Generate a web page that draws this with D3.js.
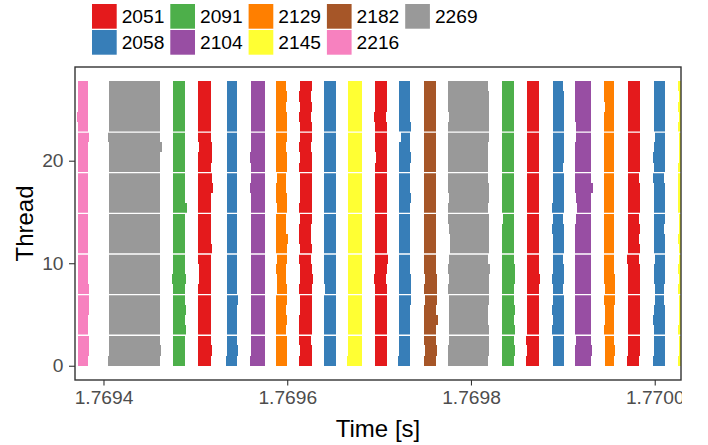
<!DOCTYPE html>
<html>
<head>
<meta charset="utf-8">
<script src="https://cdn.jsdelivr.net/npm/d3@7"></script>
<style>
  body { margin: 0; background: #fff; }
  svg { display: block; font-family: "Liberation Sans", Arial, sans-serif; }
</style>
</head>
<body>
<main></main>
<script>
// Data
const pids = ['2051', '2058', '2091', '2104', '2129', '2145', '2182', '2216', '2269']
const pidColors = ['#E41A1C', '#377EB8', '#4DAF4A', '#984EA3', '#FF7F00', '#FFFF33', '#A65628', '#F781BF', '#999999']

// each run: process id, start time [s], end time [s]
const runPid = ['2216', '2269', '2091', '2051', '2058', '2104', '2129', '2051', '2058', '2145', '2051',
    '2058', '2182', '2269', '2091', '2051', '2058', '2104', '2129', '2051', '2058', '2145']
const runStart = [1.7693722, 1.7694060, 1.7694756, 1.7695029, 1.7695344, 1.7695605, 1.7695878, 1.7696139,
    1.7696400, 1.7696661, 1.7696955, 1.7697216, 1.7697488, 1.7697750, 1.7698337, 1.7698610, 1.7698893,
    1.7699132, 1.7699448, 1.7699709, 1.7699992, 1.7700253]
const runEnd = [1.7693831, 1.7694615, 1.7694887, 1.7695170, 1.7695453, 1.7695758, 1.7695997, 1.7696269,
    1.7696531, 1.7696814, 1.7697086, 1.7697336, 1.7697619, 1.7698182, 1.7698468, 1.7698740, 1.7699012,
    1.7699306, 1.7699556, 1.7699839, 1.7700112, 1.7700400]

// per-thread deviations from a run's start / end: [thread, start shift, end shift] in microseconds
const runShifts = [
    [[24, -1.5, 0], [22, 0, 1.1], [7, 0, 1.1], [6, 0, 1.1], [5, 0, 1.1], [2, 0, 1.1], [1, 0, 1.1]],
    [[22, -1.1, 0], [21, 0, 2.2], [1, 0, 1.1], [0, -1.1, 0]],
    [[15, 0, 2.2], [8, -1.1, 1.1], [5, 0, 1.1], [3, 0, 1.1]],
    [[21, 1.1, 1.1], [20, 0, 1.1], [18, 0, 1.1], [17, 0, 2.2], [11, 0, 1.1], [9, 1.1, 0], [8, 1.1, 0], [1, 0, 1.1]],
    [[6, 0, 1.1], [1, 0, 1.1], [0, -1.1, 0]],
    [[20, -1.1, 0], [17, -1.1, 0], [0, -1.1, 0]],
    [[27, 0, -1.1], [25, 0, -1.1], [21, 0, -1.1], [18, 1.1, -1.1], [17, 0, -1.1], [15, 1.1, 0], [14, 0, -1.1],
        [13, 0, -1.1], [12, 0, 1.1], [10, 1.1, 0], [9, 0, -1.1], [8, 1.1, -1.1], [7, 1.1, 0], [5, 0, -1.1], [3, 0, -1.1]],
    [[26, -1.1, -1.1], [24, -1.1, -1.1], [21, -1.1, -1.1], [19, -1.1, 0], [15, -1.1, 0], [13, -1.1, -1.1],
        [12, -1.1, -1.1], [10, -1.1, -1.1], [8, 0, 1.1], [7, -1.1, 0], [4, -1.1, 0], [3, -1.1, 0], [2, -1.1, -1.1], [0, -1.1, 0]],
    [[7, 1.1, 0]],
    [[0, -1.1, 0]],
    [[24, -1.1, -1.1], [20, 1.1, 0], [10, 0, 1.1], [8, -1.1, -1.1]],
    [[23, 0, 1.1], [22, 2.2, 0], [20, 0, 1.1], [16, 0, 1.1], [8, 0, 1.1], [7, 0, 1.1], [6, 0, 1.1], [0, -1.1, 0]],
    [[8, 1.1, 1.1], [7, 0, 1.1], [6, 1.1, 1.1], [4, 0, 2.2], [1, 1.1, 1.1]],
    [[26, 0, 1.1], [25, 0, 1.1], [24, 1.1, 1.1], [23, 0, 1.1], [22, 0, 1.1], [17, 0, 1.1], [16, 1.1, 1.1],
        [14, 0, 1.1], [13, 1.1, 1.1], [12, 2.2, 1.1], [11, 2.2, 1.1], [10, 1.1, 0], [9, 0, 2.2], [8, 1.1, 1.1],
        [7, 0, 1.1], [6, 1.1, 1.1], [5, 1.1, 0], [4, 1.1, 0], [3, 1.1, 1.1], [2, 1.1, 1.1], [1, 0, 1.1]],
    [[14, 1.1, 0], [9, 0, 1.1], [8, 0, 1.1], [5, 0, 1.1], [3, 0, 1.1], [1, 0, 1.1]],
    [[8, 0, 1.1], [2, -1.1, 0], [0, -1.1, 0]],
    [[27, 0, -1.1], [19, 0, -1.1], [15, -1.1, 0], [14, 0, -1.1], [13, -1.1, 0], [10, 0, -1.1], [8, -1.1, 0],
        [7, 0, -1.1], [5, -1.1, 0], [3, -1.1, 0]],
    [[23, 1.1, 0], [22, 1.1, 0], [17, 0, 2.2], [16, 1.1, 0], [15, 2.2, 0], [14, 1.1, 0], [2, 1.1, 0], [1, 0, 1.1]],
    [[25, 1.1, 0], [8, 0, 1.1], [7, 1.1, 1.1], [6, 0, 1.1], [5, 1.1, 0], [4, 1.1, 0], [2, 1.1, 0], [1, 1.1, 1.1], [0, 1.1, 0]],
    [[18, 0, -1.1], [14, 0, -1.1], [12, 0, -1.1], [10, -1.1, -1.1], [0, -1.1, -1.1]],
    [[22, 1.1, 0], [20, -1.1, 0], [18, -1.1, -1.1], [13, 0, -1.1], [10, 1.1, 0], [7, 1.1, -1.1], [6, 1.1, -1.1],
        [4, -1.1, 0], [0, -1.1, 0]],
    [[26, 1.5, 0], [24, 1.5, 0], [22, 1.5, 0], [21, 1.5, 0], [20, 1.5, 0], [14, 1.5, 0], [13, 1.5, 0],
        [11, 1.5, 0], [10, 1.5, 0], [8, 1.5, 0], [6, 1.5, 0], [5, 1.5, 0], [4, 1.5, 0], [2, 1.5, 0], [1, 1.5, 0]]
]

const threadCount = 28
const groupBreaks = [3, 7, 11, 15, 19, 23]
const xTicks = [1.7694, 1.7696, 1.7698, 1.7700]
const yTicks = [0, 10, 20]

function GeneratePlot() {
    // Configuration
    const width = 708
    const height = 445
    const panel = { left: 75, right: 681, top: 67, bottom: 380 }
    const rowHeight = 0.991

    const x = d3.scaleLinear()
        .domain([1.769369, 1.7700286])
        .range([panel.left, panel.right])
    const y = d3.scaleLinear()
        .domain([-1.39, 29.14])
        .range([panel.bottom, panel.top])
    const color = d3.scaleOrdinal().domain(pids).range(pidColors)

    // one tile per run and thread
    const tiles = []
    runPid.forEach((pid, i) => {
        const shifts = new Map(runShifts[i].map(s => [s[0], s]))
        d3.range(threadCount).forEach(t => {
            const s = shifts.get(t) || [t, 0, 0]
            tiles.push({
                pid: pid,
                thread: t,
                start: runStart[i] + s[1] * 1e-6,
                end: runEnd[i] + s[2] * 1e-6
            })
        })
    })

    const svg = d3.select('main')
        .append('svg')
        .attr('width', width)
        .attr('height', height)

    const defs = svg.append('defs')
    defs.append('clipPath')
        .attr('id', 'panel-clip')
        .append('rect')
        .attr('x', panel.left)
        .attr('y', panel.top)
        .attr('width', panel.right - panel.left)
        .attr('height', panel.bottom - panel.top)
    // the bottom labels are cut at the panel's right edge in the original
    defs.append('clipPath')
        .attr('id', 'xaxis-clip')
        .append('rect')
        .attr('x', 0)
        .attr('y', 0)
        .attr('width', panel.right + 1)
        .attr('height', height)

    const plot = svg.append('g')
        .attr('clip-path', 'url(#panel-clip)')

    plot.selectAll('rect.tile')
        .data(tiles)
        .enter()
        .append('rect')
        .classed('tile', true)
        .attr('x', d => x(d.start))
        .attr('width', d => x(d.end) - x(d.start))
        .attr('y', d => y((d.thread + 1) * rowHeight))
        .attr('height', d => y(d.thread * rowHeight) - y((d.thread + 1) * rowHeight))
        .attr('fill', d => color(d.pid))
        .attr('shape-rendering', 'crispEdges')

    plot.selectAll('line.break')
        .data(groupBreaks)
        .enter()
        .append('line')
        .classed('break', true)
        .attr('x1', panel.left)
        .attr('x2', panel.right)
        .attr('y1', d => y(d * rowHeight))
        .attr('y2', d => y(d * rowHeight))
        .attr('stroke', '#fff')
        .attr('stroke-width', 1.3)

    // Panel border
    svg.append('rect')
        .attr('x', panel.left)
        .attr('y', panel.top)
        .attr('width', panel.right - panel.left)
        .attr('height', panel.bottom - panel.top)
        .attr('fill', 'none')
        .attr('stroke', '#333333')
        .attr('stroke-width', 1.4)

    // Axes
    const xAxis = svg.append('g')
        .attr('clip-path', 'url(#xaxis-clip)')
        .append('g')
        .attr('transform', `translate(0,${panel.bottom})`)
        .call(d3.axisBottom(x).tickValues(xTicks).tickFormat(d3.format('.4f')).tickSize(5.5).tickPadding(5).tickSizeOuter(0))
    const yAxis = svg.append('g')
        .attr('transform', `translate(${panel.left},0)`)
        .call(d3.axisLeft(y).tickValues(yTicks).tickSize(6).tickPadding(5.5).tickSizeOuter(0))

    ;[xAxis, yAxis].forEach(a => {
        a.select('.domain').remove()
        a.selectAll('line').attr('stroke', '#333333').attr('stroke-width', 1.1)
        a.selectAll('text')
            .attr('fill', '#4D4D4D')
            .style('font-size', '19.2px')
            .style('font-family', '"Liberation Sans", Arial, sans-serif')
    })

    svg.append('text')
        .attr('x', (panel.left + panel.right) / 2)
        .attr('y', 437)
        .attr('text-anchor', 'middle')
        .style('font-size', '24px')
        .text('Time [s]')

    svg.append('text')
        .attr('transform', `translate(33,${(panel.top + panel.bottom) / 2}) rotate(-90)`)
        .attr('text-anchor', 'middle')
        .style('font-size', '24px')
        .text('Thread')

    // Legend
    const key = 24.7
    const legend = svg.append('g')
        .selectAll('g')
        .data(pids)
        .enter()
        .append('g')
        .attr('transform', (d, i) => `translate(${92 + Math.floor(i / 2) * 78.3},${4 + (i % 2) * 26})`)
    legend.append('rect')
        .attr('width', key)
        .attr('height', key)
        .attr('fill', d => color(d))
    legend.append('text')
        .attr('x', key + 5)
        .attr('y', key / 2)
        .attr('dy', '0.35em')
        .style('font-size', '19.2px')
        .attr('fill', '#000')
        .text(d => d)
}

GeneratePlot()
</script>
</body>
</html>
